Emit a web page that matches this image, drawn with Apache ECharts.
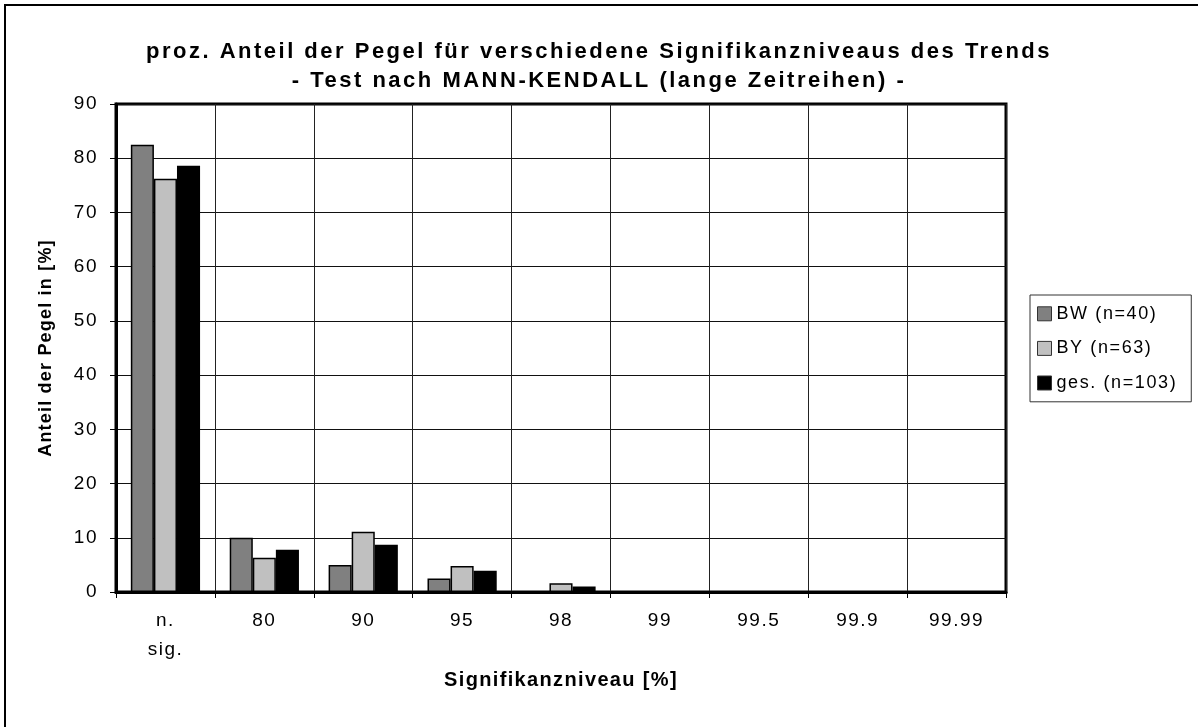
<!DOCTYPE html>
<html>
<head>
<meta charset="utf-8">
<script src="https://cdn.jsdelivr.net/npm/echarts@6/dist/echarts.min.js"></script>
<style>
  html, body { margin: 0; padding: 0; background: #fff; }
  #chart { width: 1198px; height: 727px; }
</style>
</head>
<body>
<div id="chart"></div>
<script>
// Signifikanzniveaus (x axis)
const categories = ['n.\nsig.', '80', '90', '95', '98', '99', '99.5', '99.9', '99.99'];
const seriesNames = ['BW (n=40)', 'BY (n=63)', 'ges. (n=103)'];
// Anteil der Pegel in %
const bwValues = [82.5, 10.0, 5.0, 2.5, 0, 0, 0, 0, 0];
const byValues = [76.2, 6.3, 11.1, 4.8, 1.6, 0, 0, 0, 0];
const gesValues = [78.6, 7.8, 8.7, 3.9, 1.0, 0, 0, 0, 0];
const barColors = ['#808080', '#c0c0c0', '#000000'];

// the original is an old Excel chart with widely spaced letters;
// canvas letterSpacing per font, also used when echarts measures text
const spacingByFont = { b22: '2.5px', b20: '1.35px', b18: '1.2px', 19: '1.5px', 18: '1.6px' };
['fillText', 'strokeText', 'measureText'].forEach(fn => {
  const orig = CanvasRenderingContext2D.prototype[fn];
  CanvasRenderingContext2D.prototype[fn] = function () {
    const m = /(\d+)px/.exec(this.font);
    const key = m ? (/bold|700/.test(this.font) ? 'b' : '') + m[1] : '';
    this.letterSpacing = spacingByFont[key] || '0px';
    return orig.apply(this, arguments);
  };
});

const font = '"Liberation Sans", Arial, sans-serif';
const chart = echarts.init(document.getElementById('chart'));

const makeSeries = (name, data, color) => ({
  name: name,
  type: 'bar',
  data: data,
  barGap: '0%',
  barCategoryGap: '30%',
  itemStyle: { color: color, borderColor: '#000', borderWidth: 1.5 }
});

chart.setOption({
  animation: false,
  backgroundColor: '#fff',
  textStyle: { fontFamily: font, color: '#000' },
  title: {
    text: 'proz. Anteil der Pegel für verschiedene Signifikanzniveaus des Trends\n- Test nach MANN-KENDALL (lange Zeitreihen) -',
    left: 'center',
    top: 32,
    textStyle: { fontFamily: font, fontSize: 22, fontWeight: 'bold', color: '#000', lineHeight: 29 }
  },
  legend: {
    orient: 'vertical',
    left: 1030,
    top: 295,
    itemWidth: 14,
    itemHeight: 14,
    itemGap: 15,
    padding: [9, 14, 9, 7],
    icon: 'rect',
    borderColor: '#333',
    borderWidth: 1,
    backgroundColor: '#fff',
    data: seriesNames.map(n => ({ name: n, itemStyle: { borderColor: '#333', borderWidth: 1 } })),
    textStyle: { fontFamily: font, fontSize: 18, color: '#000', padding: [0, 0, 0, 0] }
  },
  grid: {
    left: 116,
    top: 104,
    right: 192,
    bottom: 135,
    show: true,
    borderColor: '#000',
    borderWidth: 3
  },
  xAxis: {
    type: 'category',
    data: categories,
    name: 'Signifikanzniveau [%]',
    nameLocation: 'middle',
    nameGap: 78,
    nameTextStyle: { fontFamily: font, fontSize: 20, fontWeight: 'bold', color: '#000' },
    axisLine: { lineStyle: { color: '#000', width: 3 } },
    axisTick: { show: true, length: 6, lineStyle: { color: '#000' } },
    splitLine: { show: true, interval: 0, lineStyle: { color: '#222', width: 1 } },
    axisLabel: { interval: 0, margin: 14, fontFamily: font, fontSize: 19, color: '#000', lineHeight: 29 }
  },
  yAxis: {
    type: 'value',
    min: 0,
    max: 90,
    interval: 10,
    name: 'Anteil der Pegel in [%]',
    nameLocation: 'middle',
    nameGap: 60,
    nameTextStyle: { fontFamily: font, fontSize: 18, fontWeight: 'bold', color: '#000' },
    axisLine: { show: true, lineStyle: { color: '#000', width: 3 } },
    axisTick: { show: true, length: 6, lineStyle: { color: '#000' } },
    splitLine: { show: true, lineStyle: { color: '#111', width: 1 } },
    axisLabel: { margin: 18, fontFamily: font, fontSize: 19, color: '#000' }
  },
  graphic: [{
    type: 'rect',
    shape: { x: 5, y: 5, width: 1210, height: 740 },
    style: { fill: 'none', stroke: '#000', lineWidth: 2 },
    silent: true
  }],
  series: [
    makeSeries(seriesNames[0], bwValues, barColors[0]),
    makeSeries(seriesNames[1], byValues, barColors[1]),
    makeSeries(seriesNames[2], gesValues, barColors[2])
  ]
});
</script>
</body>
</html>
